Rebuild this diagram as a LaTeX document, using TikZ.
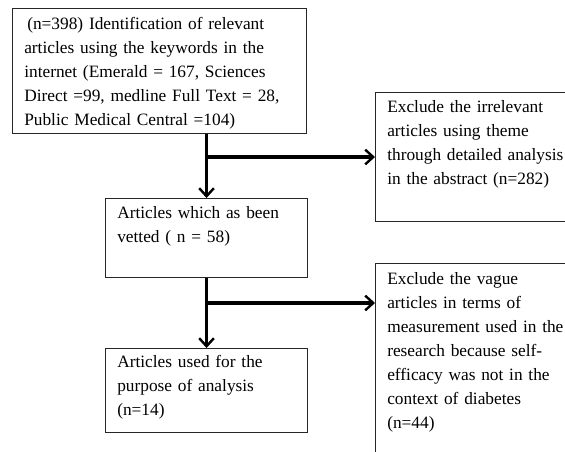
\documentclass[tikz,border=0pt]{standalone}
\usepackage{fontspec}
\setmainfont{Liberation Serif}
\usetikzlibrary{arrows.meta}
\begin{document}
\begin{tikzpicture}[x=0.75pt,y=-0.75pt,
  box/.style={draw=black!85, line width=0.8pt, inner sep=0pt, anchor=north west},
  txt/.style={anchor=base west, inner sep=0pt, align=left, text width=200pt,
    font=\fontsize{13}{18}\selectfont},
  flow/.style={line width=2.3pt, -{Straight Barb[length=6pt,width=11pt,line width=1.8pt]}},
  flowline/.style={line width=2.3pt}]
\useasboundingbox (0,0) rectangle (565,452);
\clip (0,0) rectangle (565,452);
\fill[white] (0,0) rectangle (565,452);
% boxes
\node[box, minimum width=220.5pt, minimum height=93.75pt] (b1) at (12,8) {};
\node[box, minimum width=150pt, minimum height=96.75pt] (b2) at (375,92) {};
\node[box, minimum width=151.5pt, minimum height=59.25pt] (b3) at (105,198) {};
\node[box, minimum width=150pt, minimum height=157.5pt] (b4) at (375,263) {};
\node[box, minimum width=151.5pt, minimum height=63pt] (b5) at (105,348) {};
% texts
\node[txt] (t1) at (24,30) {\hspace{2.25pt}(n=398) Identification of relevant\\ articles using the keywords in the\\ internet (Emerald = 167, Sciences\\ Direct =99, medline Full Text = 28,\\ Public Medical Central =104)};
\node[txt] (t2) at (387,113) {Exclude the irrelevant\\ articles using theme\\ through detailed analysis\\ in the abstract (n=282)};
\node[txt] (t3) at (117,219) {Articles which as been\\ vetted ( n = 58)};
\node[txt] (t4) at (387,285) {Exclude the vague\\ articles in terms of\\ measurement used in the\\ research because self-\\ efficacy was not in the\\ context of diabetes\\ (n=44)};
\node[txt] (t5) at (117,368) {Articles used for the\\ purpose of analysis\\ (n=14)};
% connectors
\draw[flow] (b1.south -| b3.north) -- (b3.north);
\coordinate (j1) at (b2.west -| b3.north);
\draw[flow] (j1) -- (b2.west);
\draw[flow] (b3.south) -- (b5.north);
\coordinate (j2) at (206,303);
\draw[flow] (j2) -- (j2 -| b4.west);
\end{tikzpicture}
\end{document}
